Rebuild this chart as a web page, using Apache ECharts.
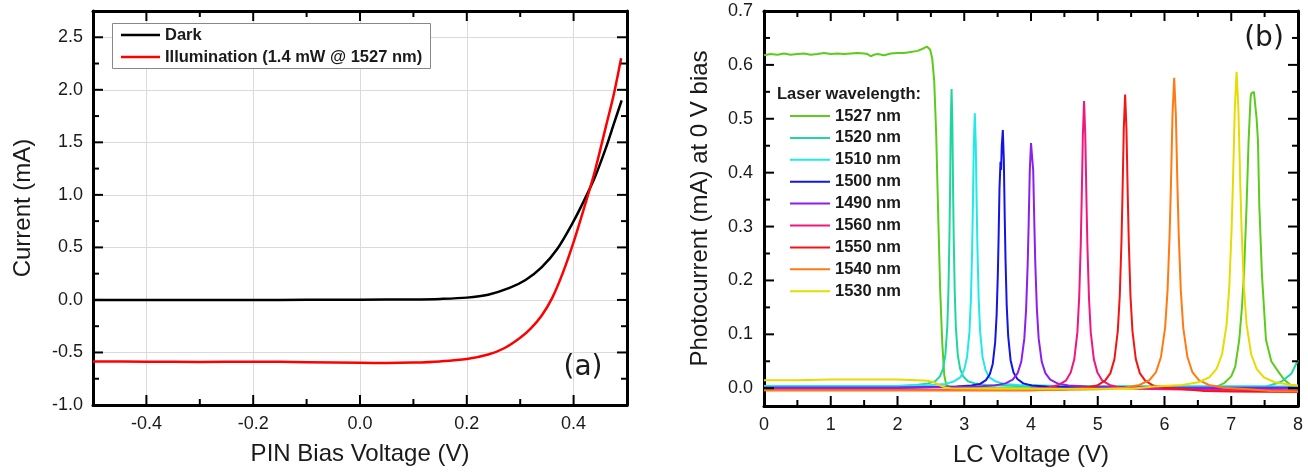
<!DOCTYPE html>
<html>
<head>
<meta charset="utf-8">
<script src="https://cdn.jsdelivr.net/npm/echarts@6/dist/echarts.min.js"></script>
<style>html,body{margin:0;padding:0;background:#fff}#c{width:1308px;height:474px}</style>
</head>
<body>
<div id="c"></div>
<script>
// ---------- Panel (a): PIN diode I-V ----------
const pinXRange = [-0.5, 0.5];
const pinYRange = [-1.0, 2.75];
const pinXMajor = [-0.4, -0.2, 0.0, 0.2, 0.4];
const pinXMinor = [-0.3, -0.1, 0.1, 0.3];
const pinYMajor = [-1.0, -0.5, 0.0, 0.5, 1.0, 1.5, 2.0, 2.5];
const pinYMinor = [-0.75, -0.25, 0.25, 0.75, 1.25, 1.75, 2.25];
const pinNames = ['Dark', 'Illumination (1.4 mW @ 1527 nm)'];
const pinColors = ['#000000', '#ff0000'];
const darkCurve = [[-0.5,0.0],[-0.4,0.0],[-0.3,0.0],[-0.2,0.0],[-0.1,0.001],[0.0,0.002],[0.1,0.005],[0.15,0.01],[0.2,0.022],[0.24,0.05],[0.28,0.115],[0.31,0.19],[0.34,0.31],[0.37,0.49],[0.40,0.75],[0.42,0.95],[0.44,1.17],[0.46,1.44],[0.475,1.67],[0.49,1.9]];
const illumCurve = [[-0.5,-0.585],[-0.4,-0.588],[-0.3,-0.59],[-0.2,-0.588],[-0.1,-0.592],[0.0,-0.598],[0.05,-0.6],[0.1,-0.596],[0.15,-0.585],[0.2,-0.563],[0.24,-0.52],[0.27,-0.46],[0.3,-0.36],[0.32,-0.27],[0.34,-0.15],[0.36,0.02],[0.38,0.26],[0.40,0.55],[0.42,0.88],[0.44,1.23],[0.46,1.64],[0.475,1.95],[0.489,2.30]];

// ---------- Panel (b): photocurrent vs LC voltage ----------
const lcXRange = [0, 8];
const lcYRange = [-0.033, 0.7];
const lcXMajor = [0, 1, 2, 3, 4, 5, 6, 7, 8];
const lcXMinor = [0.5, 1.5, 2.5, 3.5, 4.5, 5.5, 6.5, 7.5];
const lcYMajor = [0.0, 0.1, 0.2, 0.3, 0.4, 0.5, 0.6, 0.7];
const lcYMinor = [0.05, 0.15, 0.25, 0.35, 0.45, 0.55, 0.65];
const wavelengths = ['1527 nm','1520 nm','1510 nm','1500 nm','1490 nm','1560 nm','1550 nm','1540 nm','1530 nm'];
const wlColors = ['#5ccc1c','#1fd69e','#22e8e8','#1414e6','#8a1ff0','#f2167e','#f51414','#ff7b12','#e6dc00'];

const s1527 = [[0,0.618],[0.1,0.620],[0.2,0.619],[0.3,0.621],[0.4,0.619],[0.5,0.620],[0.6,0.621],[0.7,0.619],[0.8,0.620],[0.9,0.622],[1.0,0.620],[1.1,0.621],[1.2,0.620],[1.3,0.621],[1.4,0.622],[1.5,0.621],[1.55,0.620],[1.6,0.616],[1.65,0.619],[1.7,0.620],[1.8,0.618],[1.9,0.621],[2.0,0.622],[2.1,0.622],[2.2,0.624],[2.3,0.626],[2.38,0.630],[2.44,0.634],[2.49,0.628],[2.52,0.612],[2.55,0.57],[2.58,0.47],[2.61,0.32],[2.64,0.18],[2.67,0.085],[2.70,0.025],[2.73,0.006],[2.8,0.001],[3.5,0.0],[4.5,0.0],[5.5,0.0],[6.3,0.001],[6.6,0.002],[6.8,0.004],[6.9,0.01],[7.0,0.022],[7.06,0.04],[7.12,0.09],[7.16,0.15],[7.19,0.21],[7.23,0.34],[7.26,0.46],[7.29,0.54],[7.30,0.547],[7.34,0.55],[7.36,0.553],[7.38,0.50],[7.40,0.46],[7.42,0.34],[7.46,0.21],[7.49,0.15],[7.52,0.09],[7.6,0.05],[7.72,0.028],[7.8,0.015],[7.89,0.006],[8.0,0.004]];
const s1520 = [[0,0.004],[1,0.004],[2,0.004],[2.285,0.006],[2.461,0.009],[2.566,0.013],[2.636,0.022],[2.682,0.036],[2.717,0.062],[2.746,0.114],[2.763,0.181],[2.778,0.28],[2.787,0.364],[2.798,0.491],[2.81,0.555],[2.822,0.491],[2.833,0.364],[2.842,0.28],[2.857,0.181],[2.874,0.114],[2.903,0.062],[2.938,0.036],[2.984,0.022],[3.054,0.013],[3.159,0.009],[3.335,0.006],[3.8,0.004],[5,0.003],[6,0.003],[7,0.003],[7.5,0.003],[7.6,0.006],[7.75,0.012],[7.9,0.027],[8.0,0.052]];
const s1510 = [[0,0.004],[1,0.004],[2,0.004],[2.502,0.006],[2.722,0.008],[2.852,0.013],[2.94,0.02],[2.998,0.034],[3.042,0.058],[3.078,0.105],[3.1,0.166],[3.118,0.257],[3.129,0.335],[3.143,0.451],[3.158,0.51],[3.173,0.451],[3.187,0.335],[3.198,0.257],[3.216,0.166],[3.238,0.105],[3.274,0.058],[3.318,0.034],[3.376,0.02],[3.464,0.013],[3.594,0.008],[3.814,0.006],[4.5,0.004],[6,0.003],[8,0.003]];
const s1500 = [[0,0.001],[2,0.001],[2.887,0.003],[3.107,0.005],[3.237,0.008],[3.325,0.015],[3.383,0.026],[3.427,0.045],[3.463,0.085],[3.485,0.136],[3.503,0.211],[3.514,0.275],[3.528,0.371],[3.543,0.42],[3.552,0.405],[3.562,0.45],[3.578,0.479],[3.593,0.423],[3.607,0.314],[3.618,0.24],[3.636,0.154],[3.658,0.097],[3.694,0.052],[3.738,0.029],[3.796,0.017],[3.884,0.009],[4.014,0.005],[4.234,0.003],[5,0.001],[8,0.001]];
const s1490 = [[0,0.001],[2,0.001],[3.18,0.003],[3.455,0.005],[3.618,0.009],[3.727,0.016],[3.8,0.028],[3.854,0.049],[3.9,0.092],[3.927,0.147],[3.95,0.229],[3.964,0.299],[3.982,0.404],[4.0,0.455],[4.008,0.457],[4.015,0.457],[4.033,0.404],[4.051,0.299],[4.065,0.229],[4.088,0.147],[4.115,0.092],[4.161,0.049],[4.215,0.028],[4.288,0.016],[4.397,0.009],[4.56,0.005],[4.835,0.003],[6,0.001],[8,0.0]];
const s1560 = [[0,-0.003],[2,-0.003],[3.5,-0.003],[3.975,-0.001],[4.25,0.001],[4.413,0.006],[4.522,0.014],[4.595,0.029],[4.649,0.054],[4.695,0.104],[4.722,0.169],[4.745,0.265],[4.759,0.348],[4.777,0.47],[4.795,0.533],[4.813,0.47],[4.831,0.348],[4.845,0.265],[4.868,0.169],[4.895,0.104],[4.941,0.054],[4.995,0.029],[5.068,0.014],[5.177,0.006],[5.34,0.001],[5.615,-0.001],[6.5,-0.003],[8,-0.004]];
const s1550 = [[0,-0.004],[2,-0.004],[4,-0.004],[4.51,-0.002],[4.81,0.001],[4.99,0.005],[5.11,0.014],[5.19,0.028],[5.25,0.054],[5.3,0.106],[5.33,0.172],[5.355,0.271],[5.37,0.355],[5.39,0.481],[5.41,0.545],[5.43,0.481],[5.45,0.355],[5.465,0.271],[5.49,0.172],[5.52,0.106],[5.57,0.054],[5.63,0.028],[5.71,0.014],[5.83,0.005],[6.01,0.001],[6.31,-0.002],[6.6,-0.005],[7,-0.006],[8,-0.007]];
const s1540 = [[0,-0.004],[2,-0.004],[4,-0.004],[5.03,-0.002],[5.404,0.001],[5.625,0.006],[5.774,0.015],[5.873,0.03],[5.947,0.058],[6.009,0.112],[6.046,0.182],[6.077,0.286],[6.096,0.375],[6.12,0.508],[6.145,0.576],[6.17,0.508],[6.194,0.375],[6.213,0.286],[6.244,0.182],[6.281,0.112],[6.343,0.058],[6.417,0.03],[6.516,0.015],[6.665,0.006],[6.886,0.001],[7.26,-0.002],[7.6,-0.005],[8,-0.006]];
const s1530 = [[0,0.015],[0.5,0.015],[1,0.016],[1.5,0.016],[2,0.016],[2.3,0.015],[2.45,0.014],[2.55,0.011],[2.62,0.006],[2.7,0.002],[2.8,0.0],[3.5,-0.001],[4.5,-0.001],[5.5,-0.001],[5.85,0.003],[6.262,0.006],[6.507,0.011],[6.671,0.02],[6.78,0.036],[6.862,0.063],[6.93,0.118],[6.971,0.189],[7.005,0.294],[7.026,0.384],[7.053,0.518],[7.08,0.587],[7.107,0.518],[7.134,0.384],[7.155,0.294],[7.189,0.189],[7.23,0.118],[7.298,0.063],[7.38,0.036],[7.489,0.02],[7.653,0.011],[7.898,0.006],[8.0,0.005]];
const lcSeriesData = [s1527, s1520, s1510, s1500, s1490, s1560, s1550, s1540, s1530];

const FONT = '"Liberation Sans", Arial, sans-serif';
const INK = '#1a1a1a';
const LEG_FONT = 'bold 16.5px "Liberation Sans", Arial, sans-serif';

function valAxis(grid, pos, range, opts) {
  const a = {
    type: 'value', gridIndex: grid, position: pos, min: range[0], max: range[1],
    axisLine: {show: true, onZero: false, lineStyle: {color: '#000', width: 3}},
    axisTick: {show: false},
    axisLabel: {show: !!opts.labels, fontFamily: FONT, fontSize: 18, color: INK, margin: opts.margin || 10},
    splitLine: {show: !!opts.split, lineStyle: {color: '#dadada', width: 1}}
  };
  if (opts.labels) a.axisLabel.customValues = opts.labels;
  if (opts.split) a.axisTick.customValues = opts.labels;
  if (opts.name) {
    a.name = opts.name; a.nameLocation = 'middle'; a.nameGap = opts.nameGap;
    a.nameTextStyle = {fontFamily: FONT, fontSize: 24, color: INK};
  }
  return a;
}

const xAxes = [
  valAxis(0, 'bottom', pinXRange, {labels: pinXMajor, split: true, name: 'PIN Bias Voltage (V)', nameGap: 37}),
  valAxis(0, 'top', pinXRange, {}),
  valAxis(1, 'bottom', lcXRange, {labels: lcXMajor, name: 'LC Voltage (V)', nameGap: 37}),
  valAxis(1, 'top', lcXRange, {})
];
const yAxes = [
  valAxis(0, 'left', pinYRange, {labels: pinYMajor, split: true, margin: 10, name: 'Current (mA)', nameGap: 58}),
  valAxis(0, 'right', pinYRange, {}),
  valAxis(1, 'left', lcYRange, {labels: lcYMajor, margin: 11, name: 'Photocurrent (mA) at 0 V bias', nameGap: 52}),
  valAxis(1, 'right', lcYRange, {})
];
xAxes[0].axisLabel.formatter = v => v.toFixed(1);
yAxes[0].axisLabel.formatter = v => v.toFixed(1);
yAxes[2].axisLabel.formatter = v => v.toFixed(1);

// Inward tick marks on all four frame sides, drawn as rect symbols of a scatter series
// sitting on the frame (positioned by the axes' own scales).
function tickPoints(xMaj, xMin, yMaj, yMin, xr, yr) {
  const pts = [];
  const addX = (v, len) => {
    pts.push({value: [v, yr[0]], symbolSize: [2, len], symbolOffset: [0, -len / 2]});
    pts.push({value: [v, yr[1]], symbolSize: [2, len], symbolOffset: [0, len / 2]});
  };
  const addY = (v, len) => {
    pts.push({value: [xr[0], v], symbolSize: [len, 2], symbolOffset: [len / 2, 0]});
    pts.push({value: [xr[1], v], symbolSize: [len, 2], symbolOffset: [-len / 2, 0]});
  };
  xMaj.forEach(v => addX(v, 10)); xMin.forEach(v => addX(v, 6));
  yMaj.forEach(v => addY(v, 10)); yMin.forEach(v => addY(v, 6));
  return pts;
}
function tickSeries(xi, yi, pts) {
  return {type: 'scatter', xAxisIndex: xi, yAxisIndex: yi, data: pts, symbol: 'rect', clip: false, silent: true, z: 20,
    itemStyle: {color: '#000', opacity: 1}, emphasis: {disabled: true}, animation: false};
}

const series = [
  tickSeries(0, 0, tickPoints(pinXMajor, pinXMinor, pinYMajor, pinYMinor, pinXRange, pinYRange)),
  tickSeries(2, 2, tickPoints(lcXMajor, lcXMinor, lcYMajor, lcYMinor, lcXRange, lcYRange))
];
[darkCurve, illumCurve].forEach((d, i) => {
  series.push({name: pinNames[i], type: 'line', xAxisIndex: 0, yAxisIndex: 0, data: d, showSymbol: false, symbol: 'none', smooth: 0.3,
    lineStyle: {color: pinColors[i], width: 2.5}, itemStyle: {color: pinColors[i]}});
});
wavelengths.forEach((w, i) => {
  series.push({name: w, type: 'line', xAxisIndex: 2, yAxisIndex: 2, data: lcSeriesData[i], showSymbol: false, symbol: 'none', smooth: false,
    lineStyle: {color: wlColors[i], width: 2}, itemStyle: {color: wlColors[i]}});
});

// legends and panel annotations
const graphics = [];
graphics.push({type: 'rect', z: 100, shape: {x: 112.5, y: 23.5, width: 318, height: 45}, style: {fill: '#fff', stroke: '#888', lineWidth: 1}});
pinNames.forEach((n, i) => {
  const y = 35 + 22 * i;
  graphics.push({type: 'rect', z: 101, shape: {x: 121, y: y - 1.25, width: 39, height: 2.5}, style: {fill: pinColors[i]}});
  graphics.push({type: 'text', z: 101, x: 165, y: y, style: {text: n, font: LEG_FONT, fill: INK, verticalAlign: 'middle'}});
});
graphics.push({type: 'text', z: 101, x: 777, y: 94, style: {text: 'Laser wavelength:', font: LEG_FONT, fill: INK, verticalAlign: 'middle'}});
wavelengths.forEach((n, i) => {
  const y = 116 + 21.9 * i;
  graphics.push({type: 'rect', z: 101, shape: {x: 790, y: y - 1, width: 40, height: 2}, style: {fill: wlColors[i]}});
  graphics.push({type: 'text', z: 101, x: 835, y: y, style: {text: n, font: LEG_FONT, fill: INK, verticalAlign: 'middle'}});
});
graphics.push({type: 'text', z: 101, x: 583, y: 368, style: {text: '(a)', font: '28px "DejaVu Sans", sans-serif', fill: INK, align: 'center', verticalAlign: 'middle'}});
graphics.push({type: 'text', z: 101, x: 1264, y: 39, style: {text: '(b)', font: '28px "DejaVu Sans", sans-serif', fill: INK, align: 'center', verticalAlign: 'middle'}});

const chart = echarts.init(document.getElementById('c'), null, {renderer: 'canvas'});
chart.setOption({
  animation: false,
  grid: [
    {left: 93, top: 11, width: 534, height: 394},
    {left: 764, top: 11, width: 534, height: 395}
  ],
  xAxis: xAxes,
  yAxis: yAxes,
  graphic: graphics,
  series: series
});
</script>
</body>
</html>
